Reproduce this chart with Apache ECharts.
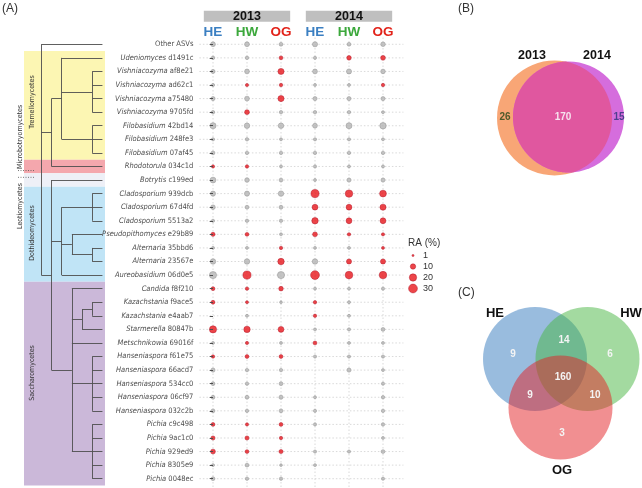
<!DOCTYPE html>
<html>
<head>
<meta charset="utf-8">
<script src="https://cdn.jsdelivr.net/npm/echarts@6.0.0/dist/echarts.min.js"></script>
<style>
html,body{margin:0;padding:0;background:#fff;}
#chart{width:642px;height:488px;}
</style>
</head>
<body>
<div id="chart"></div>
<script>
// ================= DATA =================
const rowGenus = ['', 'Udeniomyces','Vishniacozyma','Vishniacozyma','Vishniacozyma','Vishniacozyma','Filobasidium','Filobasidium','Filobasidium','Rhodotorula','Botrytis','Cladosporium','Cladosporium','Cladosporium','Pseudopithomyces','Alternaria','Alternaria','Aureobasidium','Candida','Kazachstania','Kazachstania','Starmerella','Metschnikowia','Hanseniaspora','Hanseniaspora','Hanseniaspora','Hanseniaspora','Hanseniaspora','Pichia','Pichia','Pichia','Pichia','Pichia'];
const rowId = ['Other ASVs','d1491c','af8e21','ad62c1','a75480','9705fd','42bd14','248fe3','07af45','034c1d','c199ed','939dcb','67d4fd','5513a2','e29b89','35bbd6','23567e','06d0e5','f8f210','f9ace5','e4aab7','80847b','69016f','f61e75','66acd7','534cc0','06cf97','032c2b','c9c498','9ac1c0','929ed9','8305e9','0048ec'];
const years = ['2013','2014'];
const sites = ['HE','HW','OG'];

// relative abundance (%) per column, null = absent
const ra2013HE = [8,3.7,5.5,3,5.5,3.7,13.5,3,4.5,3,12, 9,7,3,5.5,2.5,10.5,19,4.6,4.6,null,19, 2.5,3.5,5.5,4.6,4.6,4.6,4.6,5.5,8,2.5,4.6];
const ra2013HW = [8,3.7,8,3,8,8,10.5,3.5,3.5,3.5,7, 9,4.6,3.5,4.6,2.5,10.5,25,3.5,2.5,2.5,15, 3,4.6,3.5,3.5,4.6,3.5,3,5.5,4.6,4.6,3.5];
const ra2013OG = [4.6,4.6,13.5,3.7,13.5,3.5,10.5,2.5,3.5,2.5,4.6, 10.5,4.6,3.5,2.5,3.5,15,19,7,2,null,12, 2.5,4.6,3.5,4.6,5.5,4.6,4.6,3.5,5.5,2,3.5];
const ra2014HE = [9,3,8,2.5,5.5,3.5,8,3,3.5,3,2.5, 25,12,15,8,2.5,10.5,30,2.5,3.5,3.5,2.5, 4.6,3,null,null,2.5,3,3,null,3,2.5,null];
const ra2014HW = [4.6,7,9,2.5,5.5,3.5,13,3,3.5,2.5,5.5, 21,12,12,3.5,2.5,9,22,2.5,2.5,2.5,3, 2.5,3,5.5,null,null,null,null,null,3,null,null];
const ra2014OG = [7,8,7,3.5,5.5,2.5,15,2.5,3.5,2.5,5.5, 17,13.5,12,3,2.5,9,21,3,null,null,4.6, 2.5,3,2.5,3,3.5,3.5,3.5,2.5,4.6,null,3];
// 1 = highlighted (red), 0 = grey
const red2013HE = [0,0,0,0,0,0,0,0,0,1,0, 0,0,0,1,0,0,0,1,1,0,1, 0,1,0,0,0,0,1,1,1,0,0];
const red2013HW = [0,0,0,1,0,1,0,0,0,1,0, 0,0,0,1,0,0,1,1,1,0,1, 1,1,0,0,0,0,1,1,1,0,0];
const red2013OG = [0,1,1,1,1,0,0,0,0,0,0, 0,0,0,0,1,1,0,1,0,0,1, 0,1,0,0,0,0,1,1,1,0,0];
const red2014HE = [0,0,0,0,0,0,0,0,0,0,0, 1,1,1,1,0,0,1,0,1,1,0, 1,0,0,0,0,0,0,0,0,0,0];
const red2014HW = [0,1,0,0,0,0,0,0,0,0,0, 1,1,1,1,0,1,1,0,0,0,0, 0,0,0,0,0,0,0,0,0,0,0];
const red2014OG = [0,1,0,1,0,0,0,0,0,0,0, 1,1,1,1,1,1,1,0,0,0,0, 0,0,0,0,0,0,0,0,0,0,0];

const legendValues = [1, 10, 20, 30];

// taxonomy tree: node depth and children (numbers = row index)
const treeNodes = {
  root:{d:0,c:[0,'basidio','asco']},
  basidio:{d:1,c:['tremello',9]},
  tremello:{d:2,c:[1,'vish','filo']},
  vish:{d:5,c:[2,3,4,5]},
  filo:{d:5,c:[6,7,8]},
  asco:{d:1,c:[10,'dothideo','sacch']},
  dothideo:{d:2,c:['clado','pleo',17]},
  clado:{d:5,c:[11,12,13]},
  pleo:{d:3,c:[14,'alt']},
  alt:{d:5,c:[15,16]},
  sacch:{d:3,c:[18,'kazst',22,'hans','pichia']},
  kazst:{d:4,c:['kaz',21]},
  kaz:{d:5,c:[19,20]},
  hans:{d:5,c:[23,24,25,26,27]},
  pichia:{d:5,c:[28,29,30,31,32]}
};
const leafDepth = 6;

const classNames = ['Tremellomycetes','Microbotryomycetes','Leotiomycetes','Dothideomycetes','Saccharomycetes'];
const classFirstRow = [1,9,10,11,18];
const classLastRow = [8,9,10,17,32];
const classColors = ['#fcf6b3','#f4a7ad','#eef0f7','#c0e4f6','#cbb8d9'];

const vennBSets = ['2013','2014'];
const vennBCounts = [26,170,15];        // only 2013, both, only 2014
const vennCSets = ['HE','HW','OG'];
const vennCCounts = [9,6,3,14,9,10,160]; // HE, HW, OG, HE&HW, HE&OG, HW&OG, all

// ================= CHART =================
const FONT = "'Liberation Sans', Arial, sans-serif";
const NARROW = "'Liberation Sans Narrow', 'DejaVu Sans Condensed', 'Liberation Sans', sans-serif";
const LBL = 7.5;
const siteColors = ['#3b7fc2','#3ca83c','#e2231a'];
const sz = v => 0.6 + 1.5 * Math.sqrt(v);
const RED = {color:'#e8161c', borderColor:'#b0182a', borderWidth:0.6};
const GRAY = {color:'#b5b5b5', borderColor:'#8e8e8e', borderWidth:0.6};

const raCols = [ra2013HE, ra2013HW, ra2013OG, ra2014HE, ra2014HW, ra2014OG];
const redCols = [red2013HE, red2013HW, red2013OG, red2014HE, red2014HW, red2014OG];
const bubbleData = [];
raCols.forEach((col, ci) => col.forEach((v, ri) => {
  if (v != null) bubbleData.push({value:[ci, rowId[ri], v], itemStyle: redCols[ci][ri] ? RED : GRAY});
}));

function nodeY(k){
  if (typeof k === 'number') return k;
  const n = treeNodes[k];
  return (nodeY(n.c[0]) + nodeY(n.c[n.c.length-1])) / 2;
}
const treeSegs = [];
Object.keys(treeNodes).forEach(k => {
  const n = treeNodes[k];
  treeSegs.push({coords:[[n.d, nodeY(n.c[0])],[n.d, nodeY(n.c[n.c.length-1])]]});
  n.c.forEach(ch => {
    const cd = typeof ch === 'number' ? leafDepth : treeNodes[ch].d;
    treeSegs.push({coords:[[n.d, nodeY(ch)],[cd, nodeY(ch)]]});
  });
});

const GTOP = 37.5, GH = 448;
const chart = echarts.init(document.getElementById('chart'));
const option = {
  animation:false,
  backgroundColor:'#fff',
  grid:[
    {left:199.4, top:GTOP, width:204, height:GH},
    {left:24, top:GTOP, width:81, height:GH},
    {left:406, top:250, width:14, height:44}
  ],
  xAxis:[
    {gridIndex:0, type:'value', min:-0.4, max:5.6, show:false},
    {gridIndex:1, type:'value', min:-1.7, max:6.25, show:false},
    {gridIndex:2, type:'value', min:-1, max:1, show:false}
  ],
  yAxis:[
    {gridIndex:0, type:'category', data:rowId, inverse:true, z:10,
     axisLine:{show:false}, splitLine:{show:false},
     axisTick:{show:true, alignWithLabel:true, length:3.3, lineStyle:{color:'#4d4d4d', width:1}},
     axisLabel:{margin:6, interval:0, fontSize:LBL, color:'#4d4d4d', fontFamily:NARROW,
       formatter:(v, i) => i === 0 ? '{n|Other ASVs}' : '{g|' + rowGenus[i] + '} {n|' + rowId[i] + '}',
       rich:{g:{fontStyle:'italic', fontSize:LBL, color:'#4d4d4d', fontFamily:NARROW},
             n:{fontSize:LBL, color:'#4d4d4d', fontFamily:NARROW}}}},
    {gridIndex:1, type:'value', min:-0.5, max:32.5, inverse:true, show:false},
    {gridIndex:2, type:'category', data:legendValues.map(String), position:'right', inverse:true,
     axisLine:{show:false}, axisTick:{show:false}, splitLine:{show:false},
     axisLabel:{margin:3, interval:0, fontSize:9, color:'#333', fontFamily:FONT}}
  ],
  series:[
    // grid lines
    {type:'custom', xAxisIndex:0, yAxisIndex:0, silent:true, z:1,
     data: rowId.map((id) => [0, id]),
     renderItem:(params, api) => {
       const cs = params.coordSys; const y = api.coord([0, api.value(1)])[1];
       return {type:'line', shape:{x1:cs.x, y1:y, x2:cs.x+cs.width, y2:y},
               style:{stroke:'#cfcfcf', lineWidth:0.8, lineDash:[1.5,2]}};
     }},
    {type:'custom', xAxisIndex:0, yAxisIndex:0, silent:true, z:1,
     data: raCols.map((c, i) => [i, rowId[0]]),
     renderItem:(params, api) => {
       const cs = params.coordSys; const x = api.coord([api.value(0), 0])[0];
       return {type:'line', shape:{x1:x, y1:cs.y, x2:x, y2:cs.y+cs.height+3},
               style:{stroke:'#cfcfcf', lineWidth:0.8, lineDash:[1.5,2]}};
     }},
    // bubbles
    {type:'scatter', xAxisIndex:0, yAxisIndex:0, z:5, silent:true,
     data: bubbleData, symbolSize: v => sz(v[2])},
    // class bands
    {type:'custom', xAxisIndex:1, yAxisIndex:1, silent:true, z:1,
     data: classNames.map((n, i) => [classFirstRow[i], classLastRow[i], i]),
     renderItem:(params, api) => {
       const cs = params.coordSys;
       const y1 = api.coord([0, api.value(0) - 0.5])[1];
       const y2 = api.coord([0, api.value(1) + 0.5])[1];
       return {type:'rect', shape:{x:cs.x, y:y1, width:cs.width, height:y2-y1},
               style:{fill: classColors[api.value(2)]}};
     }},
    // tree
    {type:'lines', coordinateSystem:'cartesian2d', xAxisIndex:1, yAxisIndex:1, silent:true, z:4,
     data: treeSegs, lineStyle:{color:'#4f4f4f', width:1, opacity:0.9}},
    // size legend
    {type:'scatter', xAxisIndex:2, yAxisIndex:2, silent:true,
     data: legendValues.map(v => [0, String(v), v]), symbolSize: v => sz(v[2]), itemStyle: RED}
  ]
};
chart.setOption(option);

// ================= ANNOTATIONS =================
const G = [];
function T(text, x, y, o){
  o = o || {};
  return {type:'text', x:x, y:y, rotation:o.rot||0, silent:true, z:100,
    style:{text:text, x:0, y:0, fill:o.color||'#333',
      font:(o.weight||'normal') + ' ' + (o.size||10) + 'px ' + (o.family||FONT),
      align:o.align||'center', verticalAlign:o.va||'middle'}};
}
function pxX(v){ return chart.convertToPixel({xAxisIndex:0}, v); }
function pxTreeY(v){ return chart.convertToPixel({yAxisIndex:1}, v); }

// header
years.forEach((yr, k) => {
  const x1 = pxX(-0.27 + 3*k), x2 = pxX(2.27 + 3*k);
  G.push({type:'rect', shape:{x:x1, y:10.7, width:x2-x1, height:11}, style:{fill:'#bfbfbf'}, silent:true, z:90});
  G.push(T(yr, (x1+x2)/2, 16.5, {weight:'bold', size:12.5, color:'#111'}));
  sites.forEach((s, j) => G.push(T(s, pxX(3*k+j), 32, {weight:'bold', size:13.5, color:siteColors[j]})));
});

// panel labels
G.push(T('(A)', 2, 9, {size:12, align:'left', color:'#333'}));
G.push(T('(B)', 458, 9, {size:12, align:'left', color:'#333'}));
G.push(T('(C)', 458, 293, {size:12, align:'left', color:'#333'}));

// class labels
const CLS = 7;
G.push(T(classNames[0], 32, 102, {rot:Math.PI/2, size:CLS, family:NARROW}));
G.push(T(classNames[1], 20, 169, {rot:Math.PI/2, size:CLS, align:'left', family:NARROW}));
G.push(T(classNames[2], 20, 183, {rot:Math.PI/2, size:CLS, align:'right', family:NARROW}));
G.push(T(classNames[3], 32, 233, {rot:Math.PI/2, size:CLS, family:NARROW}));
G.push(T(classNames[4], 32, 373, {rot:Math.PI/2, size:CLS, family:NARROW}));
[pxTreeY(9.3), pxTreeY(9.8)].forEach(y => G.push({type:'line', silent:true, z:95,
  shape:{x1:18, y1:y, x2:35, y2:y}, style:{stroke:'#555', lineWidth:0.8, lineDash:[1,1.5]}}));

// size legend title
G.push(T('RA (%)', 408, 243.5, {size:10, align:'left', color:'#333'}));

// Venn B
const cB1 = [554.5, 118, 57.5], cB2 = [568.5, 117, 55.5];
function inside(p, c){ return Math.hypot(p[0]-c[0], p[1]-c[1]) <= c[2] + 1e-6; }
function lens(a, b){
  const pts = [];
  for (let i = 0; i < 720; i++){
    const t = i/720*2*Math.PI;
    const pa = [a[0]+a[2]*Math.cos(t), a[1]+a[2]*Math.sin(t)];
    const pb = [b[0]+b[2]*Math.cos(t), b[1]+b[2]*Math.sin(t)];
    if (inside(pa, b)) pts.push(pa);
    if (inside(pb, a)) pts.push(pb);
  }
  let cx = 0, cy = 0; pts.forEach(p => {cx += p[0]; cy += p[1];}); cx /= pts.length; cy /= pts.length;
  pts.sort((p, q) => Math.atan2(p[1]-cy, p[0]-cx) - Math.atan2(q[1]-cy, q[0]-cx));
  return pts;
}
G.push({type:'circle', shape:{cx:cB1[0], cy:cB1[1], r:cB1[2]}, style:{fill:'#f8a676'}, silent:true, z:50});
G.push({type:'circle', shape:{cx:cB2[0], cy:cB2[1], r:cB2[2]}, style:{fill:'#d56ddd'}, silent:true, z:51});
G.push({type:'polygon', shape:{points:lens(cB1, cB2)}, style:{fill:'#e0579f'}, silent:true, z:52});
G.push(T(vennBSets[0], 532, 56, {weight:'bold', size:12.5, color:'#111'}));
G.push(T(vennBSets[1], 597, 56, {weight:'bold', size:12.5, color:'#111'}));
G.push(T(String(vennBCounts[0]), 505, 117, {weight:'bold', size:10, color:'#4f5a2b'}));
G.push(T(String(vennBCounts[1]), 563, 117, {weight:'bold', size:10, color:'#f6e3ee'}));
G.push(T(String(vennBCounts[2]), 619, 117, {weight:'bold', size:10, color:'#4e3f8e'}));

// Venn C
const cC = [[535, 359, 52], [587.5, 359, 52], [560.5, 407.5, 52]];
const cCFill = ['rgba(52,122,190,0.5)', 'rgba(72,182,66,0.5)', 'rgba(228,32,36,0.5)'];
cC.forEach((c, i) => G.push({type:'circle', shape:{cx:c[0], cy:c[1], r:c[2]}, style:{fill:cCFill[i]}, silent:true, z:60+i}));
G.push(T(vennCSets[0], 495, 313, {weight:'bold', size:13, color:'#111'}));
G.push(T(vennCSets[1], 631, 313, {weight:'bold', size:13, color:'#111'}));
G.push(T(vennCSets[2], 562, 470, {weight:'bold', size:13, color:'#111'}));
const cCPos = [[513,354],[610,354],[562,433],[564,340],[530,395],[595,395],[563,377]];
vennCCounts.forEach((n, i) => G.push(T(String(n), cCPos[i][0], cCPos[i][1], {weight:'bold', size:10, color:'#f4f4f4'})));

chart.setOption({graphic: G});
</script>
</body>
</html>
